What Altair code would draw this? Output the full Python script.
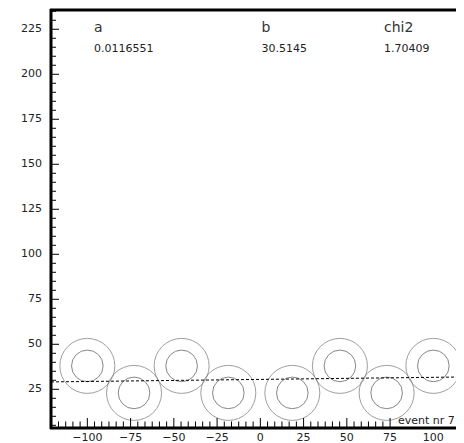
import altair as alt
import pandas as pd

# circle centres (event hits)
hit_x = [-100, -73, -45.5, -18.5, 18.5, 46, 73, 100]
hit_y = [38, 23, 38, 23, 23, 38, 23, 38]

# fitted line (endpoints)
line_x = [-121.0, 113.1]
line_y = [29.1, 31.8]

# fit result texts
par_names = ["a", "b", "chi2"]
par_values = ["0.0116551", "30.5145", "1.70409"]
par_x = [-96.1, 0.7, 71.5]

event_label = ["event nr 7"]

X_DOM = [-121.0, 113.1]
Y_DOM = [3.5, 235.7]
W, H = 405, 418

xs = alt.Scale(domain=X_DOM, nice=False, zero=False)
ys = alt.Scale(domain=Y_DOM, nice=False, zero=False)

font = "DejaVu Sans"

hits = pd.DataFrame({"x": hit_x, "y": hit_y})
line = pd.DataFrame({"x": line_x, "y": line_y})
names = pd.DataFrame({"x": par_x, "y": [223.5] * 3, "t": par_names})
vals = pd.DataFrame({"x": par_x, "y": [212.4] * 3, "t": par_values})

y_major = list(range(25, 226, 25))
y_minor = [v for v in range(5, 236, 5) if v % 25 != 0]
x_labels = list(range(-100, 101, 25))
x_major = [v for v in x_labels if v < 78]
x_minor = [round(-125 + i * 25 / 6, 3) for i in range(1, 60)]
x_minor = [v for v in x_minor if -120 < v < 78 and abs(v / 25 - round(v / 25)) > 1e-6]


def X(field):
    return alt.X(field, scale=xs, axis=None)


def Y(field):
    return alt.Y(field, scale=ys, axis=None)


outer = alt.Chart(hits).mark_point(shape="circle", size=3025, color="#777",
                                   strokeWidth=1, filled=False).encode(
    x=X("x:Q"), y=Y("y:Q"))
inner = alt.Chart(hits).mark_point(shape="circle", size=1000, color="#555",
                                   strokeWidth=1, filled=False).encode(
    x=X("x:Q"), y=Y("y:Q"))

fit = alt.Chart(line).mark_line(color="black", strokeWidth=1, strokeDash=[3, 2]).encode(
    x=X("x:Q"), y=Y("y:Q"))

# frame lines (left, bottom, top)
one = pd.DataFrame({"k": [0]})
left = alt.Chart(one).mark_rule(color="black", strokeWidth=3).encode(
    x=alt.value(0), y=alt.value(-1), y2=alt.value(H + 1))
bottom = alt.Chart(one).mark_rule(color="black", strokeWidth=3).encode(
    x=alt.value(-1), x2=alt.value(W + 10), y=alt.value(H), y2=alt.value(H))
top = alt.Chart(one).mark_rule(color="black", strokeWidth=3).encode(
    x=alt.value(-1), x2=alt.value(W + 10), y=alt.value(0), y2=alt.value(0))

# ticks (pointing inward, as in the reference)
ytm = alt.Chart(pd.DataFrame({"v": y_major})).mark_rule(color="black").encode(
    y=Y("v:Q"), x=alt.value(0), x2=alt.value(8))
ytn = alt.Chart(pd.DataFrame({"v": y_minor})).mark_rule(color="black").encode(
    y=Y("v:Q"), x=alt.value(0), x2=alt.value(5))
xtm = alt.Chart(pd.DataFrame({"v": x_major})).mark_rule(color="black", strokeWidth=1).encode(
    x=X("v:Q"), y=alt.value(H - 10), y2=alt.value(H))
xtn = alt.Chart(pd.DataFrame({"v": x_minor})).mark_rule(color="black", strokeWidth=1).encode(
    x=X("v:Q"), y=alt.value(H - 6.5), y2=alt.value(H))

# tick labels
ylab = alt.Chart(pd.DataFrame({"v": y_major})).mark_text(
    align="right", baseline="middle", font=font, fontSize=11, color="#222").encode(
    y=Y("v:Q"), x=alt.value(-9), text=alt.Text("v:Q", format="d"))
xlab = alt.Chart(pd.DataFrame({"v": x_labels})).mark_text(
    align="center", baseline="middle", font=font, fontSize=11, color="#222").encode(
    x=X("v:Q"), y=alt.value(H + 10), text=alt.Text("v:Q", format="d"))

t_names = alt.Chart(names).mark_text(align="left", baseline="alphabetic", font=font,
                                     fontSize=14, color="#333").encode(
    x=X("x:Q"), y=Y("y:Q"), text="t:N")
t_vals = alt.Chart(vals).mark_text(align="left", baseline="alphabetic", font=font,
                                   fontSize=11, color="#222").encode(
    x=X("x:Q"), y=Y("y:Q"), text="t:N")
ev = alt.Chart(pd.DataFrame({"x": [79.6], "y": [5.9], "t": event_label})).mark_text(
    align="left", baseline="alphabetic", font=font, fontSize=11, color="#222").encode(
    x=X("x:Q"), y=Y("y:Q"), text="t:N")

chart = alt.layer(left, bottom, top, outer, inner, fit, ylab, xlab,
                  t_names, t_vals, ev, ytm, ytn, xtm, xtn).properties(
    width=W, height=H,
    autosize=alt.AutoSizeParams(type="none"),
    padding={"left": 43, "top": 2, "right": 0, "bottom": 15},
).configure_view(stroke=None).configure(background="white")

chart.save("out.html", embed_options={"renderer": "svg", "actions": False})
